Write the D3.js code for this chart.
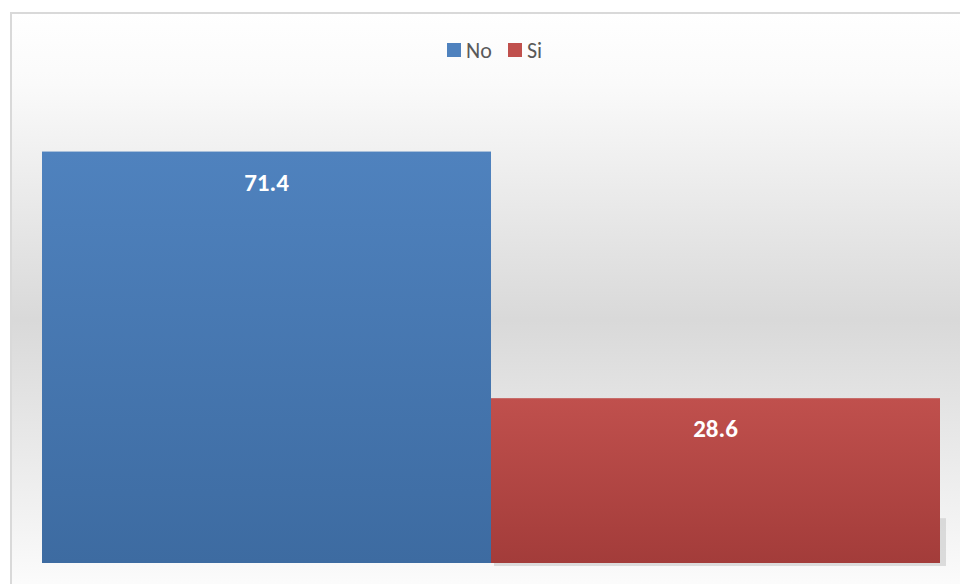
<!DOCTYPE html>
<html>
<head>
<meta charset="utf-8">
<script src="https://cdn.jsdelivr.net/npm/d3@7"></script>
<style>
  body { margin: 0; background: #fff; }
  text { font-family: Calibri, Carlito, Lato, "Liberation Sans", sans-serif; }
</style>
</head>
<body>
<script>
const width = 960;
const height = 584;

// data
const series = ["No", "Si"];
const values = [71.4, 28.6];
const colorsTop = ["#4f82be", "#c0504d"];
const colorsBottom = ["#3d6ba1", "#a33c3a"];

const margin = {left: 42, right: 20, top: 102, bottom: 21};

const svg = d3.select("body")
	.append("svg")
	.attr("width", width)
	.attr("height", height);

const defs = svg.append("defs");

// chart background gradient
const bg = defs.append("linearGradient")
	.attr("id", "bg")
	.attr("x1", 0).attr("y1", 0).attr("x2", 0).attr("y2", 1);
bg.append("stop").attr("offset", "0%").attr("stop-color", "#ffffff");
bg.append("stop").attr("offset", "12%").attr("stop-color", "#fafafa");
bg.append("stop").attr("offset", "52%").attr("stop-color", "#d9d9d9");
bg.append("stop").attr("offset", "88%").attr("stop-color", "#f4f4f4");
bg.append("stop").attr("offset", "100%").attr("stop-color", "#fefefe");

series.forEach((s, i) => {
	const g = defs.append("linearGradient")
		.attr("id", "grad" + i)
		.attr("x1", 0).attr("y1", 0).attr("x2", 0).attr("y2", 1);
	g.append("stop").attr("offset", "0%").attr("stop-color", colorsTop[i]);
	g.append("stop").attr("offset", "100%").attr("stop-color", colorsBottom[i]);
});

// frame
svg.append("rect")
	.attr("x", 11)
	.attr("y", 13)
	.attr("width", 960)
	.attr("height", 590)
	.attr("fill", "url(#bg)")
	.attr("stroke", "#d9d9d9")
	.attr("stroke-width", 2);

// scales
const x = d3.scaleBand()
	.domain(series)
	.range([margin.left, width - margin.right])
	.padding(0);

const y = d3.scaleLinear()
	.domain([0, 80])
	.range([height - margin.bottom, margin.top]);

// shadow behind last bar
svg.append("rect")
	.attr("x", x("Si") + 3)
	.attr("y", y(values[1]) + 120)
	.attr("width", x.bandwidth() + 3)
	.attr("height", y(0) - y(values[1]) - 117)
	.attr("fill", "#c8c8c8")
	.attr("opacity", 0.6);

// bars
svg.selectAll("rect.bar")
	.data(series)
	.enter()
	.append("rect")
	.attr("class", "bar")
	.attr("x", (d) => x(d))
	.attr("y", (d, i) => y(values[i]))
	.attr("width", x.bandwidth())
	.attr("height", (d, i) => y(0) - y(values[i]))
	.attr("fill", (d, i) => "url(#grad" + i + ")");

// value labels
svg.selectAll("text.label")
	.data(series)
	.enter()
	.append("text")
	.attr("class", "label")
	.attr("x", (d) => x(d) + x.bandwidth() / 2)
	.attr("y", (d, i) => y(values[i]) + 39)
	.attr("text-anchor", "middle")
	.attr("font-size", 25)
	.attr("font-weight", "bold")
	.attr("fill", "#ffffff")
	.text((d, i) => values[i].toFixed(1));

// legend
const legend = svg.append("g");
const legendX = [447, 508];
series.forEach((s, i) => {
	legend.append("rect")
		.attr("x", legendX[i])
		.attr("y", 43)
		.attr("width", 14)
		.attr("height", 14)
		.attr("fill", colorsTop[i]);
	legend.append("text")
		.attr("x", legendX[i] + 19)
		.attr("y", 58)
		.attr("font-size", 22)
		.attr("fill", "#595959")
		.text(s);
});
</script>
</body>
</html>
